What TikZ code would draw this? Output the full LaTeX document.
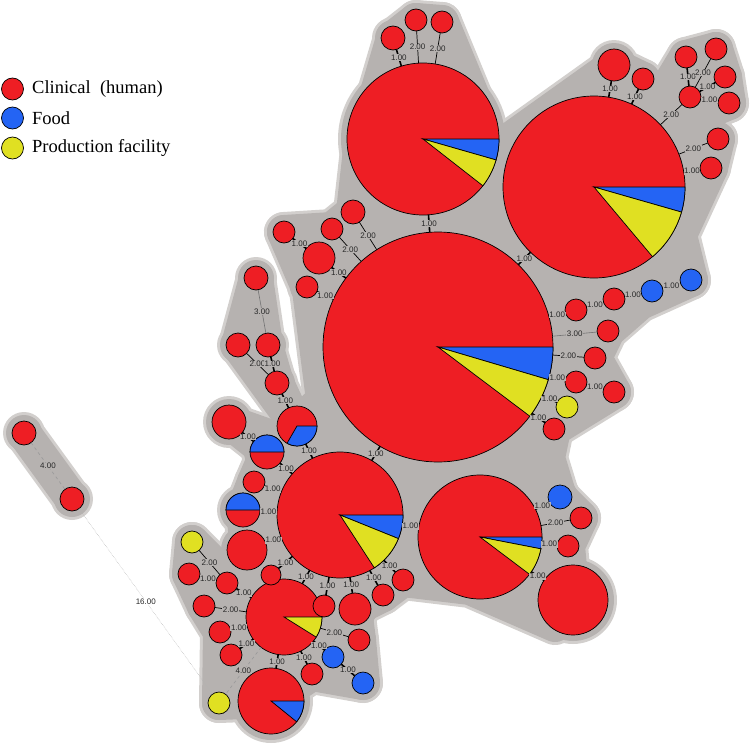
\documentclass[tikz,border=0pt]{standalone}
\usepackage{fontspec}
\setmainfont{Liberation Serif}
\newfontfamily\lblfont{Liberation Sans}

\definecolor{clin}{RGB}{238,30,36}
\definecolor{food}{RGB}{36,100,244}
\definecolor{prod}{RGB}{224,224,34}
\definecolor{hull}{RGB}{182,178,176}
\definecolor{hullrim}{RGB}{210,207,205}
\definecolor{lbltext}{RGB}{40,40,40}

\begin{document}
\begin{tikzpicture}[x=1pt, y=1pt,
		st/.style={circle, draw=black, line width=0.7pt, inner sep=0pt, outer sep=0pt},
		dist1/.style={line width=1.6pt},
		dist2/.style={line width=0.7pt},
		dist3/.style={line width=0.6pt, black!55},
		dist4/.style={line width=0.6pt, dashed, black!40},
		dist16/.style={line width=0.5pt, densely dotted, black!30},
		lbl/.style={font=\lblfont\fontsize{8}{8}\selectfont, text=lbltext, fill=hull, inner sep=0.6pt},
		key/.style={circle, draw=black, line width=0.7pt, minimum size=22pt, inner sep=0pt},
		keytext/.style={font=\fontsize{18.5}{19}\selectfont, anchor=west, inner sep=0pt}
		]
		
		\useasboundingbox (0,0) rectangle (750,-744);
		
		% Sequence types: name/x/y/radius/colour
		\def\types{A/423/139/76/clin, B/594/187/91/clin, C/438/347/115/clin,
			D/340/515/63/clin, E/480/537/62/clin, F/284/617/38/clin,
			G/271/701/33/clin, H/573/600/35/clin,
			a1/393/38/12/clin, a2/416/20/11/clin, a3/442/22/11/clin,
			b1/614/65/16/clin, b2/643/79/11/clin, b3/690/97/11/clin,
			b4/686/57/11/clin, b5/716/49/11/clin, b6/725/77/11/clin,
			b7/729/103/11/clin, b8/718/139/11/clin, b9/711/168/11/clin,
			c1/353/212/12/clin, c2/332/229/11/clin, c3/319/258/16/clin,
			c4/284/232/11/clin, c5/307/287/11/clin, c6/576/310/11/clin,
			c7/614/299/11/clin, c8/652/291/11/food, c9/691/280/11/food,
			c10/608/331/11/clin, c11/595/358/11/clin, c12/576/382/11/clin,
			c13/614/392/11/clin, c14/567/407/11/prod, c15/554/429/11/clin,
			d1/256/278/12/clin, d2/268/345/12/clin, d3/238/345/12/clin,
			d4/277/383/12/clin, d5/297/426/20/clin, d6/229/422/17/clin,
			d7/267/452/17/clin, d8/254/482/11/clin, d9/243/510/17/clin,
			d10/247/550/20/clin, d11/271/575/10/clin, d12/324/606/11/clin,
			d13/355/609/16/clin, d14/383/595/11/clin, d15/403/580/11/clin,
			e1/560/497/12/food, e2/581/518/11/clin, e3/568/546/11/clin,
			f1/192/542/11/prod, f2/189/574/11/clin, f3/227/583/11/clin,
			f4/204/606/11/clin, f5/220/632/11/clin, f6/231/655/11/clin,
			f7/219/703/11/prod, f8/312/674/11/clin, f9/333/657/11/food,
			f10/363/683/11/food, f11/359/640/11/clin,
			o1/24/433/12/clin, o2/72/499/12/clin}
		
		% Grey partition: light rim first, then the fill
		\foreach \w/\col/\h in {40/hullrim/9, 34/hull/6} {
			\foreach \n/\x/\y/\r/\c in \types
				\fill[\col] (\x,-\y) circle[radius=\r+\h];
			\draw[\col, fill=\col, line width=\w, line join=round]
				(393,-38) -- (416,-20) -- (442,-22) -- (495,-150) -- (614,-65) -- (643,-79)
				-- (660,-100) -- (686,-57) -- (716,-49) -- (725,-77) -- (729,-103) -- (688,-120)
				-- (718,-139) -- (711,-168) -- (680,-235) -- (691,-280) -- (640,-303) -- (608,-331)
				-- (595,-358) -- (614,-392) -- (554,-429) -- (548,-458) -- (560,-497) -- (581,-518)
				-- (568,-546) -- (573,-600) -- (555,-625) -- (470,-588) -- (403,-580) -- (383,-595)
				-- (355,-609) -- (359,-640) -- (363,-683) -- (312,-674) -- (271,-701) -- (219,-703)
				-- (220,-632) -- (204,-606) -- (189,-574) -- (192,-542) -- (222,-572) -- (247,-550)
				-- (243,-510) -- (254,-482) -- (267,-452) -- (229,-422) -- (280,-440) -- (323,-400)
				-- (309,-290) -- (284,-232) -- (332,-229) -- (353,-212) -- (360,-150) -- cycle;
			\draw[\col, fill=\col, line width=\w, line join=round]
				(256,-278) -- (266,-345) -- (277,-383) -- (297,-426) -- (238,-345) -- cycle;
			\draw[\col, line width=\w, line cap=round] (24,-433) -- (72,-499);
		}
		
		% Draw the types
		\foreach \n/\x/\y/\r/\c in \types
			\node[st, fill=\c, minimum size=2*\r] (\n) at (\x,-\y) {};
		
		% Pie slices
		\filldraw[fill=food, line width=0.7pt] (A.center) -- ++(0:76) arc[start angle=0, end angle=-16, radius=76] -- cycle;
		\filldraw[fill=prod, line width=0.7pt] (A.center) -- ++(-16:76) arc[start angle=-16, end angle=-38, radius=76] -- cycle;
		\filldraw[fill=food, line width=0.7pt] (B.center) -- ++(0:91) arc[start angle=0, end angle=-16, radius=91] -- cycle;
		\filldraw[fill=prod, line width=0.7pt] (B.center) -- ++(-16:91) arc[start angle=-16, end angle=-50, radius=91] -- cycle;
		\filldraw[fill=food, line width=0.7pt] (C.center) -- ++(0:115) arc[start angle=0, end angle=-16.5, radius=115] -- cycle;
		\filldraw[fill=prod, line width=0.7pt] (C.center) -- ++(-16.5:115) arc[start angle=-16.5, end angle=-37, radius=115] -- cycle;
		\filldraw[fill=food, line width=0.7pt] (D.center) -- ++(0:63) arc[start angle=0, end angle=-22, radius=63] -- cycle;
		\filldraw[fill=prod, line width=0.7pt] (D.center) -- ++(-22:63) arc[start angle=-22, end angle=-57, radius=63] -- cycle;
		\filldraw[fill=food, line width=0.7pt] (E.center) -- ++(0:62) arc[start angle=0, end angle=-11, radius=62] -- cycle;
		\filldraw[fill=prod, line width=0.7pt] (E.center) -- ++(-11:62) arc[start angle=-11, end angle=-37, radius=62] -- cycle;
		\filldraw[fill=prod, line width=0.7pt] (F.center) -- ++(0:38) arc[start angle=0, end angle=-32, radius=38] -- cycle;
		\filldraw[fill=food, line width=0.7pt] (G.center) -- ++(0:33) arc[start angle=0, end angle=-39, radius=33] -- cycle;
		\filldraw[fill=food, line width=0.7pt] (d5.center) -- ++(0:20) arc[start angle=0, end angle=-120, radius=20] -- cycle;
		\filldraw[fill=food, line width=0.7pt] (d7.center) -- ++(0:17) arc[start angle=0, end angle=180, radius=17] -- cycle;
		\filldraw[fill=food, line width=0.7pt] (d9.center) -- ++(0:17) arc[start angle=0, end angle=180, radius=17] -- cycle;
		
		% Links, top and right
		\draw[dist1] (A) -- node[lbl] {1.00} (a1);
		\draw[dist2] (A) -- node[lbl] {2.00} (a2);
		\draw[dist2] (A) -- node[lbl] {2.00} (a3);
		\draw[dist1] (A) -- node[lbl] {1.00} (C);
		\draw[dist1] (C) -- node[lbl] {1.00} (B);
		\draw[dist1] (B) -- node[lbl] {1.00} (b1);
		\draw[dist1] (B) -- node[lbl] {1.00} (b2);
		\draw[dist2] (B) -- node[lbl] {2.00} (b3);
		\draw[dist1] (b3) -- node[lbl] {1.00} (b4);
		\draw[dist2] (b3) -- node[lbl] {2.00} (b5);
		\draw[dist1] (b3) -- node[lbl] {1.00} (b6);
		\draw[dist1] (b3) -- node[lbl] {1.00} (b7);
		\draw[dist2] (B) -- node[lbl] {2.00} (b8);
		\draw[dist1] (B) -- node[lbl] {1.00} (b9);
		
		% Links round the largest type
		\draw[dist2] (C) -- node[lbl] {2.00} (c1);
		\draw[dist2] (C) -- node[lbl] {2.00} (c2);
		\draw[dist1] (C) -- node[lbl] {1.00} (c3);
		\draw[dist1] (c3) -- node[lbl] {1.00} (c4);
		\draw[dist1] (C) -- node[lbl] {1.00} (c5);
		\draw[dist1] (C) -- node[lbl] {1.00} (c6);
		\draw[dist1] (c6) -- node[lbl] {1.00} (c7);
		\draw[dist1] (c7) -- node[lbl] {1.00} (c8);
		\draw[dist1] (c8) -- node[lbl] {1.00} (c9);
		\draw[dist3] (C) -- node[lbl] {3.00} (c10);
		\draw[dist2] (C) -- node[lbl] {2.00} (c11);
		\draw[dist1] (C) -- node[lbl] {1.00} (c12);
		\draw[dist1] (c12) -- node[lbl] {1.00} (c13);
		\draw[dist1] (C) -- node[lbl] {1.00} (c14);
		\draw[dist1] (C) -- node[lbl] {1.00} (c15);
		\draw[dist1] (C) -- node[lbl] {1.00} (D);
		
		% Links, left side
		\draw[dist3] (d1) -- node[lbl] {3.00} (d2);
		\draw[dist2] (d3) -- node[lbl] {2.00} (d4);
		\draw[dist1] (d2) -- node[lbl] {1.00} (d4);
		\draw[dist1] (d4) -- node[lbl] {1.00} (d5);
		\draw[dist1] (d5) -- node[lbl] {1.00} (D);
		\draw[dist1] (d6) -- node[lbl] {1.00} (d7);
		\draw[dist1] (d7) -- node[lbl] {1.00} (D);
		\draw[dist1] (d8) -- node[lbl] {1.00} (D);
		\draw[dist1] (d9) -- node[lbl] {1.00} (D);
		\draw[dist1] (d10) -- node[lbl] {1.00} (D);
		\draw[dist1] (d11) -- node[lbl] {1.00} (D);
		\draw[dist1] (D) -- node[lbl] {1.00} (d12);
		\draw[dist1] (D) -- node[lbl] {1.00} (d13);
		\draw[dist1] (D) -- node[lbl] {1.00} (d14);
		\draw[dist1] (D) -- node[lbl] {1.00} (d15);
		\draw[dist1] (D) -- node[lbl] {1.00} (F);
		\draw[dist1] (D) -- node[lbl] {1.00} (E);
		
		% Links, lower right
		\draw[dist1] (E) -- node[lbl] {1.00} (e1);
		\draw[dist2] (E) -- node[lbl] {2.00} (e2);
		\draw[dist1] (E) -- node[lbl] {1.00} (e3);
		\draw[dist1] (E) -- node[lbl] {1.00} (H);
		
		% Links, bottom
		\draw[dist2] (f1) -- node[lbl] {2.00} (f3);
		\draw[dist1] (f2) -- node[lbl] {1.00} (f3);
		\draw[dist1] (f3) -- node[lbl] {1.00} (F);
		\draw[dist2] (f4) -- node[lbl] {2.00} (F);
		\draw[dist1] (f5) -- node[lbl] {1.00} (F);
		\draw[dist1] (f6) -- node[lbl] {1.00} (F);
		\draw[dist4] (F) -- node[lbl] {4.00} (f7);
		\draw[dist1] (F) -- node[lbl] {1.00} (G);
		\draw[dist1] (F) -- node[lbl] {1.00} (f8);
		\draw[dist1] (F) -- node[lbl] {1.00} (f9);
		\draw[dist1] (f9) -- node[lbl] {1.00} (f10);
		\draw[dist2] (F) -- node[lbl] {2.00} (f11);
		
		% Outlying pair
		\draw[dist4] (o1) -- node[lbl] {4.00} (o2);
		\draw[dist16] (o2) -- node[lbl, fill=white] {16.00} (f7);
		
		% Legend
		\node[key, fill=clin] (kclin) at (12.5,-89) {};
		\node[key, fill=food] (kfood) at (12.5,-118) {};
		\node[key, fill=prod] (kprod) at (12.5,-148) {};
		\node[keytext] (tclin) at (32,-89) {Clinical\ \ (human)};
		\node[keytext] (tfood) at (32,-118) {Food};
		\node[keytext] (tprod) at (32,-148) {Production facility};
		
	\end{tikzpicture}
\end{document}
